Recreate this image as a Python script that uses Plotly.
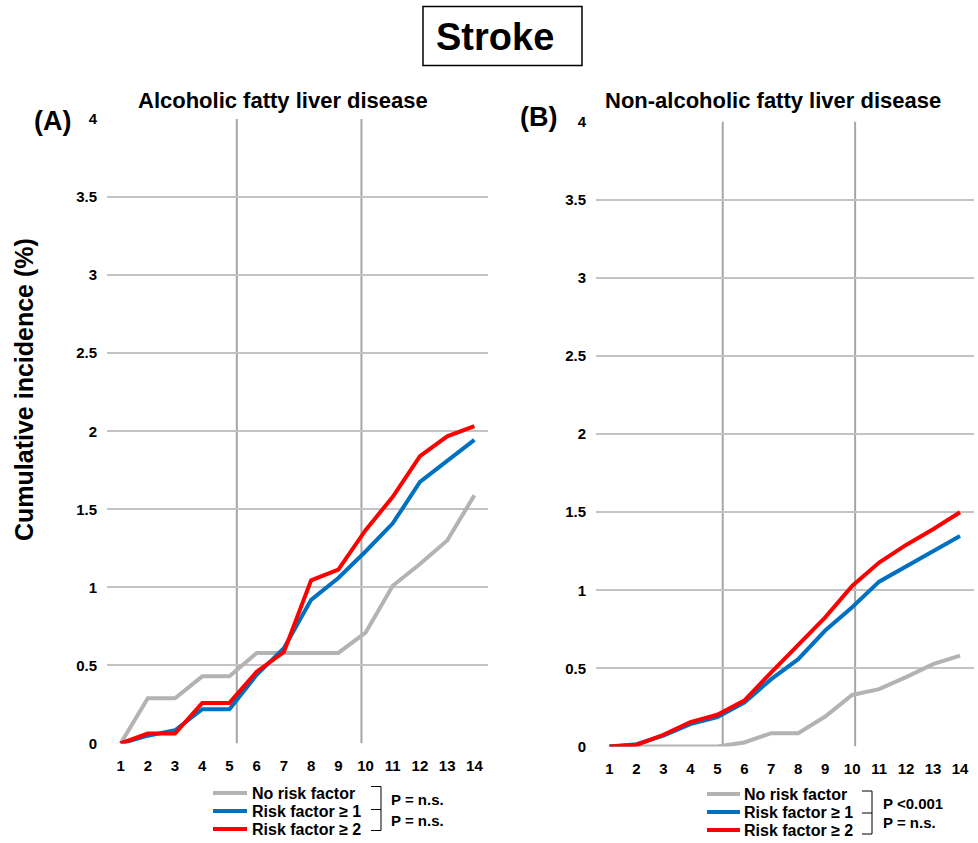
import plotly.graph_objects as go

# ---------------- data ----------------
years = list(range(1, 15))
tick_labels = [str(v) for v in years]

afld_no_risk = [0, 0.29, 0.29, 0.43, 0.43, 0.58, 0.58, 0.58, 0.58, 0.71, 1.01, 1.15, 1.30, 1.59]
afld_risk1 = [0, 0.05, 0.085, 0.22, 0.22, 0.44, 0.61, 0.92, 1.06, 1.23, 1.41, 1.675, 1.81, 1.945]
afld_risk2 = [0, 0.064, 0.064, 0.26, 0.26, 0.46, 0.586, 1.045, 1.114, 1.366, 1.58, 1.84, 1.967, 2.033]

nafld_no_risk = [0, 0, 0, 0, 0, 0.026, 0.085, 0.085, 0.192, 0.33, 0.367, 0.444, 0.527, 0.582]
nafld_risk1 = [0, 0.015, 0.07, 0.143, 0.188, 0.281, 0.431, 0.559, 0.742, 0.891, 1.055, 1.151, 1.247, 1.347]
nafld_risk2 = [0, 0.01, 0.075, 0.156, 0.203, 0.294, 0.475, 0.65, 0.827, 1.027, 1.177, 1.29, 1.39, 1.499]

series_names = ["No risk factor", "Risk factor \u2265 1", "Risk factor \u2265 2"]
series_colors = ["#b3b3b3", "#0070c0", "#ff0000"]

p_text_a = ["P = n.s.", "P = n.s."]
p_text_b = ["P <0.001", "P = n.s."]

# ---------------- layout helpers ----------------
W, H = 978, 843
FONT = "Liberation Sans, Arial, sans-serif"


def px(x):
    return x / W


def py(y):
    return 1 - y / H


fig = go.Figure()

panels = [
    ("x", "y", [afld_no_risk, afld_risk1, afld_risk2]),
    ("x2", "y2", [nafld_no_risk, nafld_risk1, nafld_risk2]),
]
for xa, ya, data in panels:
    for name, color, vals in zip(series_names, series_colors, data):
        fig.add_trace(go.Scatter(
            x=years, y=vals, mode="lines", name=name,
            line=dict(color=color, width=4),
            xaxis=xa, yaxis=ya, showlegend=False,
        ))

tickfont = dict(family=FONT, size=15, color="black", weight="bold")
xcommon = dict(range=[0.5, 14.5], tickvals=years, ticktext=tick_labels,
               showgrid=False, zeroline=False, showline=False, automargin=False,
               ticks="", tickfont=tickfont, ticklabelstandoff=11, fixedrange=True)
ycommon = dict(range=[0, 4], dtick=0.5, tick0=0, showgrid=True, automargin=False,
               gridcolor="#c3c3c3", gridwidth=2, zeroline=False, showline=False,
               ticks="", tickfont=tickfont, ticklabelstandoff=9, fixedrange=True)

fig.update_layout(
    width=W, height=H, autosize=False, showlegend=False,
    margin=dict(l=0, r=0, t=0, b=0, pad=0, autoexpand=False),
    paper_bgcolor="white", plot_bgcolor="white",
    xaxis=dict(domain=[px(107), px(488)], anchor="y", **xcommon),
    yaxis=dict(domain=[py(743.5), py(119)], anchor="x", **ycommon),
    xaxis2=dict(domain=[px(596), px(973.5)], anchor="y2", **xcommon),
    yaxis2=dict(domain=[py(746.5), py(121.5)], anchor="x2", **ycommon),
)

shapes = []
# vertical reference lines
for xref, yref, xs in [("x", "y", [5.27, 9.85]), ("x2", "y2", [5.20, 10.11])]:
    for xv in xs:
        shapes.append(dict(type="line", xref=xref, yref=yref, x0=xv, x1=xv, y0=0, y1=4,
                           line=dict(color="#a6a6a6", width=2), layer="below"))

# title box
shapes.append(dict(type="rect", xref="paper", yref="paper",
                   x0=px(423), x1=px(582), y0=py(65.5), y1=py(6.5),
                   line=dict(color="black", width=1.5)))

annotations = [
    dict(text="Stroke", x=px(495), y=py(37), xref="paper", yref="paper",
         showarrow=False, xanchor="center", yanchor="middle",
         font=dict(family=FONT, size=38, color="black", weight="bold")),
    dict(text="Alcoholic fatty liver disease", x=px(283), y=py(100), xref="paper", yref="paper",
         showarrow=False, xanchor="center", yanchor="middle",
         font=dict(family=FONT, size=22, color="black", weight="bold")),
    dict(text="Non-alcoholic fatty liver disease", x=px(773), y=py(101), xref="paper", yref="paper",
         showarrow=False, xanchor="center", yanchor="middle",
         font=dict(family=FONT, size=22, color="black", weight="bold")),
    dict(text="(A)", x=px(52), y=py(121), xref="paper", yref="paper",
         showarrow=False, xanchor="center", yanchor="middle",
         font=dict(family=FONT, size=27, color="black", weight="bold")),
    dict(text="(B)", x=px(538), y=py(117), xref="paper", yref="paper",
         showarrow=False, xanchor="center", yanchor="middle",
         font=dict(family=FONT, size=27, color="black", weight="bold")),
    dict(text="Cumulative incidence (%)", x=px(24), y=py(390), xref="paper", yref="paper",
         showarrow=False, xanchor="center", yanchor="middle", textangle=-90,
         font=dict(family=FONT, size=25, color="black", weight="bold")),
]

# custom legends
legends = [
    (213, 247, 250, [793, 811, 829], 381, [786.5, 809.5, 830.5], 389, [799, 820], p_text_a),
    (707, 740, 742, [794, 812, 830], 872, [791, 813, 834], 881, [803, 822], p_text_b),
]
for lx0, lx1, tx, rows, bx, bys, ptx, pys, ptexts in legends:
    for name, color, ry in zip(series_names, series_colors, rows):
        shapes.append(dict(type="line", xref="paper", yref="paper",
                           x0=px(lx0), x1=px(lx1), y0=py(ry), y1=py(ry),
                           line=dict(color=color, width=4)))
        annotations.append(dict(text=name, x=px(tx), y=py(ry), xref="paper", yref="paper",
                                showarrow=False, xanchor="left", yanchor="middle",
                                font=dict(family=FONT, size=16, color="black", weight="bold")))
    shapes.append(dict(type="line", xref="paper", yref="paper",
                       x0=px(bx), x1=px(bx), y0=py(bys[0]), y1=py(bys[2]),
                       line=dict(color="black", width=1)))
    for by in bys:
        shapes.append(dict(type="line", xref="paper", yref="paper",
                           x0=px(bx - 10), x1=px(bx), y0=py(by), y1=py(by),
                           line=dict(color="black", width=1)))
    for t, pyv in zip(ptexts, pys):
        annotations.append(dict(text=t, x=px(ptx), y=py(pyv), xref="paper", yref="paper",
                                showarrow=False, xanchor="left", yanchor="middle",
                                font=dict(family=FONT, size=15, color="black", weight="bold")))

fig.update_layout(shapes=shapes, annotations=annotations)

fig.write_html("out.html", config={"displayModeBar": False},
               post_script="document.body.style.margin='0';document.body.style.overflow='hidden';")
